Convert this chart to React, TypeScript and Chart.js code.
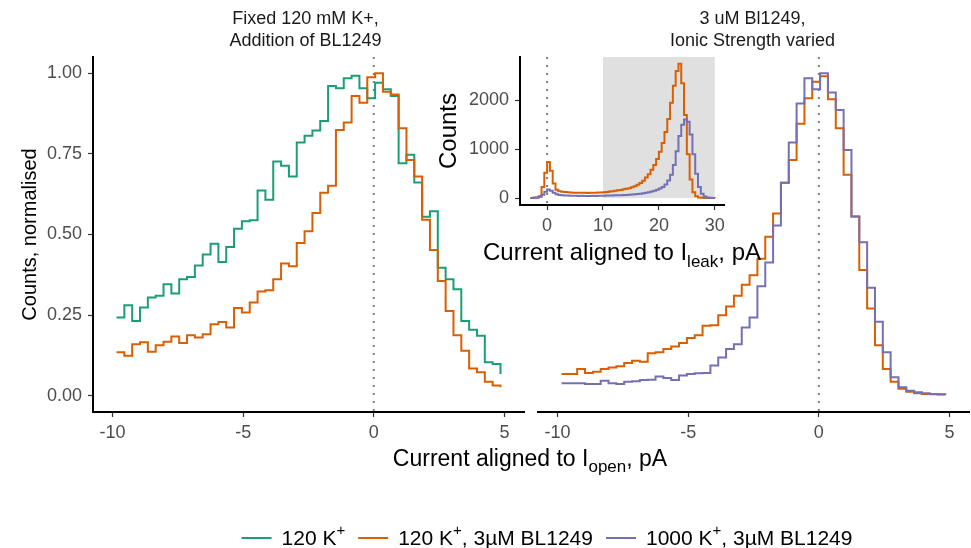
import React, { useEffect, useRef } from 'react';
import { Chart, registerables } from 'chart.js';

Chart.register(...registerables);

const W = 971;
const H = 548;
const FONT = '"Liberation Sans", Arial, Helvetica, sans-serif';

const COLOR_120K = '#1b9e77';
const COLOR_120K_BL = '#d95f02';
const COLOR_1000K_BL = '#7570b3';

// Bin centres (pA) of the main histograms
const binCenters = [
  -9.85, -9.55, -9.25, -8.95, -8.65, -8.35, -8.05, -7.75, -7.45, -7.15,
  -6.85, -6.55, -6.25, -5.95, -5.65, -5.35, -5.05, -4.75, -4.45, -4.15,
  -3.85, -3.55, -3.25, -2.95, -2.65, -2.35, -2.05, -1.75, -1.45, -1.15,
  -0.85, -0.55, -0.25, 0.05, 0.35, 0.65, 0.95, 1.25, 1.55, 1.85,
  2.15, 2.45, 2.75, 3.05, 3.35, 3.65, 3.95, 4.25, 4.55, 4.85,
];

// Left panel: Fixed 120 mM K+
const left120K = [
  0.243, 0.281, 0.232, 0.274, 0.305, 0.31, 0.346, 0.317, 0.361, 0.368,
  0.404, 0.438, 0.471, 0.415, 0.461, 0.518, 0.541, 0.544, 0.636, 0.608,
  0.726, 0.713, 0.68, 0.785, 0.806, 0.822, 0.852, 0.96, 0.953, 0.984,
  0.992, 0.953, 0.922, 0.97, 0.95, 0.929, 0.721, 0.747, 0.661, 0.555,
  0.572, 0.397, 0.361, 0.33, 0.232, 0.205, 0.186, 0.104, 0.099, 0.068,
];
const left120KBL = [
  0.135, 0.124, 0.16, 0.166, 0.137, 0.157, 0.168, 0.184, 0.164, 0.188,
  0.181, 0.191, 0.222, 0.229, 0.212, 0.272, 0.258, 0.289, 0.323, 0.327,
  0.361, 0.41, 0.402, 0.474, 0.51, 0.567, 0.629, 0.651, 0.824, 0.847,
  0.929, 0.908, 0.987, 1.0, 0.942, 0.934, 0.829, 0.731, 0.68, 0.546,
  0.452, 0.356, 0.263, 0.188, 0.14, 0.085, 0.073, 0.044, 0.032, 0.027,
];

// Right panel: 3 uM BL1249, ionic strength varied
const right120KBL = [
  0.068, 0.068, 0.083, 0.071, 0.075, 0.083, 0.088, 0.092, 0.102, 0.109,
  0.106, 0.132, 0.135, 0.145, 0.153, 0.164, 0.179, 0.188, 0.217, 0.219,
  0.25, 0.277, 0.31, 0.344, 0.374, 0.425, 0.493, 0.565, 0.66, 0.731,
  0.843, 0.922, 0.973, 0.99, 0.919, 0.829, 0.685, 0.556, 0.39, 0.271,
  0.157, 0.083, 0.044, 0.022, 0.013, 0.008, 0.006, 0.005, 0.004, 0.004,
];
const right1000KBL = [
  0.039, 0.039, 0.039, 0.037, 0.037, 0.047, 0.039, 0.037, 0.044, 0.045,
  0.049, 0.05, 0.06, 0.055, 0.049, 0.063, 0.068, 0.07, 0.071, 0.094,
  0.119, 0.145, 0.16, 0.212, 0.243, 0.34, 0.413, 0.528, 0.66, 0.785,
  0.906, 0.984, 0.95, 1.0, 0.94, 0.886, 0.762, 0.556, 0.476, 0.335,
  0.23, 0.135, 0.058, 0.027, 0.016, 0.011, 0.008, 0.006, 0.005, 0.004,
];

// Inset: raw counts vs current aligned to I_leak
const insetBins = [
  -3, -2.5, -2, -1.5, -1, -0.5, 0, 0.5, 1, 1.5,
  2, 2.5, 3, 3.5, 4, 4.5, 5, 5.5, 6, 6.5,
  7, 7.5, 8, 8.5, 9, 9.5, 10, 10.5, 11, 11.5,
  12, 12.5, 13, 13.5, 14, 14.5, 15, 15.5, 16, 16.5,
  17, 17.5, 18, 18.5, 19, 19.5, 20, 20.5, 21, 21.5,
  22, 22.5, 23, 23.5, 24, 24.5, 25, 25.5, 26, 26.5,
  27, 27.5, 28, 28.5, 29, 29.5, 30,
];
const inset120KBL = [
  5, 8, 15, 40, 230, 520, 740, 560, 300, 170,
  140, 130, 125, 120, 118, 112, 110, 112, 108, 110,
  105, 108, 110, 112, 115, 118, 122, 128, 135, 140,
  150, 160, 168, 180, 192, 205, 222, 245, 275, 310,
  355, 420, 490, 580, 680, 800, 950, 1130, 1350, 1620,
  1950, 2300, 2600, 2750, 2350, 1700, 900, 380, 120, 40,
  15, 8, 5, 3, 2, 1, 1,
];
const inset1000KBL = [
  5, 8, 15, 30, 70, 130, 175, 150, 110, 80,
  65, 58, 55, 52, 50, 48, 48, 46, 47, 45,
  46, 45, 47, 46, 48, 50, 50, 52, 54, 55,
  57, 58, 60, 63, 66, 70, 75, 80, 85, 92,
  100, 110, 120, 135, 150, 170, 195, 230, 280, 360,
  480, 680, 960, 1270, 1500, 1610, 1560, 1300, 900, 500,
  230, 90, 35, 15, 8, 4, 2,
];

const mainXTicks = [-10, -5, 0, 5];
const mainYTicks = [0, 0.25, 0.5, 0.75, 1];
const insetXTicks = [0, 10, 20, 30];
const insetYTicks = [0, 1000, 2000];
const highlightRange = [10, 30];

type Seg = { t: string; sub?: boolean; sup?: boolean };

const stripLeft = ['Fixed 120 mM K+,', 'Addition of BL1249'];
const stripRight = ['3 uM Bl1249,', 'Ionic Strength varied'];
const yTitle = 'Counts, normalised';
const xTitle: Seg[] = [{ t: 'Current aligned to I' }, { t: 'open', sub: true }, { t: ', pA' }];
const insetYTitle = 'Counts';
const insetXTitle: Seg[] = [{ t: 'Current aligned to I' }, { t: 'leak', sub: true }, { t: ', pA' }];
const legendItems: { color: string; label: Seg[] }[] = [
  { color: COLOR_120K, label: [{ t: '120 K' }, { t: '+', sup: true }] },
  { color: COLOR_120K_BL, label: [{ t: '120 K' }, { t: '+', sup: true }, { t: ', 3\u00b5M BL1249' }] },
  { color: COLOR_1000K_BL, label: [{ t: '1000 K' }, { t: '+', sup: true }, { t: ', 3\u00b5M BL1249' }] },
];

function segFont(size: number, s: Seg) {
  const sz = s.sub || s.sup ? Math.round(size * 0.72) : size;
  return `${sz}px ${FONT}`;
}
function richWidth(ctx: CanvasRenderingContext2D, segs: Seg[], size: number) {
  let w = 0;
  for (const s of segs) {
    ctx.font = segFont(size, s);
    w += ctx.measureText(s.t).width;
  }
  return w;
}
function drawRich(ctx: CanvasRenderingContext2D, segs: Seg[], x: number, y: number, size: number) {
  for (const s of segs) {
    ctx.font = segFont(size, s);
    const dy = s.sub ? size * 0.28 : s.sup ? -size * 0.38 : 0;
    ctx.fillText(s.t, x, y + dy);
    x += ctx.measureText(s.t).width;
  }
}

function stepDataset(label: string, xs: number[], ys: number[], color: string) {
  return {
    label,
    data: xs.map((x, i) => ({ x, y: ys[i] })),
    borderColor: color,
    backgroundColor: color,
    borderWidth: 2,
    borderJoinStyle: 'miter' as const,
    borderCapStyle: 'butt' as const,
    pointRadius: 0,
    pointHoverRadius: 0,
    stepped: 'before' as const,
    fill: false,
    tension: 0,
  };
}

const tickFont = { family: FONT, size: 18 };

function xAxis(min: number, max: number, ticks: number[], height: number) {
  return {
    type: 'linear' as const,
    min,
    max,
    afterBuildTicks: (s: any) => {
      s.ticks = ticks.map((v) => ({ value: v }));
    },
    afterFit: (s: any) => {
      s.height = height;
    },
    grid: { display: true, drawOnChartArea: false, drawTicks: true, tickLength: 5, tickColor: '#333333', tickWidth: 1.2 },
    border: { display: true, color: '#000000', width: 2 },
    ticks: { color: '#4d4d4d', font: tickFont, padding: 5, maxRotation: 0, autoSkip: false, callback: (v: any) => String(v) },
  };
}

function yAxis(min: number, max: number, ticks: number[], width: number, fmt: (v: number) => string, display = true) {
  return {
    type: 'linear' as const,
    display,
    min,
    max,
    afterBuildTicks: (s: any) => {
      s.ticks = ticks.map((v) => ({ value: v }));
    },
    afterFit: (s: any) => {
      s.width = width;
    },
    grid: { display: true, drawOnChartArea: false, drawTicks: true, tickLength: 5, tickColor: '#333333', tickWidth: 1.2 },
    border: { display: true, color: '#000000', width: 2 },
    ticks: { color: '#4d4d4d', font: tickFont, padding: 6, autoSkip: false, callback: (v: any) => fmt(Number(v)) },
  };
}

function drawZeroLine(chart: any) {
  const { ctx, chartArea, scales } = chart;
  const x = scales.x.getPixelForValue(0);
  ctx.save();
  ctx.strokeStyle = '#808080';
  ctx.lineWidth = 2;
  ctx.setLineDash([2, 6]);
  ctx.beginPath();
  ctx.moveTo(x, chartArea.top);
  ctx.lineTo(x, chartArea.bottom);
  ctx.stroke();
  ctx.restore();
}

const commonOptions = {
  responsive: false,
  maintainAspectRatio: false,
  animation: false as const,
  devicePixelRatio: 1,
  events: [] as any[],
};

const noPlugins = { legend: { display: false }, tooltip: { enabled: false }, title: { display: false } };

export default function App() {
  const leftRef = useRef<HTMLCanvasElement>(null);
  const rightRef = useRef<HTMLCanvasElement>(null);
  const insetRef = useRef<HTMLCanvasElement>(null);

  useEffect(() => {
    document.body.style.margin = '0';
    const charts: Chart[] = [];

    // Left panel (also draws the shared axis titles and the legend)
    charts.push(
      new Chart(leftRef.current as HTMLCanvasElement, {
        type: 'line',
        data: {
          datasets: [
            stepDataset('120 K+, 3uM BL1249', binCenters, left120KBL, COLOR_120K_BL),
            stepDataset('120 K+', binCenters, left120K, COLOR_120K),
          ],
        },
        options: {
          ...commonOptions,
          layout: { padding: { left: 0, right: W - 524, top: 57, bottom: 0 } },
          plugins: noPlugins,
          scales: {
            x: xAxis(-10.75, 5.75, mainXTicks, H - 412),
            y: yAxis(-0.05, 1.05, mainYTicks, 93, (v) => v.toFixed(2)),
          },
        } as any,
        plugins: [
          {
            id: 'leftExtras',
            beforeDatasetsDraw(chart: any) {
              drawZeroLine(chart);
            },
            afterDraw(chart: any) {
              const ctx = chart.ctx as CanvasRenderingContext2D;
              const ca = chart.chartArea;
              ctx.save();
              ctx.fillStyle = '#1a1a1a';
              ctx.font = `18px ${FONT}`;
              ctx.textAlign = 'center';
              ctx.textBaseline = 'alphabetic';
              const cx = (ca.left + ca.right) / 2 - 3;
              ctx.fillText(stripLeft[0], cx, 24);
              ctx.fillText(stripLeft[1], cx, 46);
              // y title
              ctx.fillStyle = '#000000';
              ctx.save();
              ctx.translate(30, (ca.top + ca.bottom) / 2);
              ctx.rotate(-Math.PI / 2);
              ctx.font = `20px ${FONT}`;
              ctx.textBaseline = 'middle';
              ctx.textAlign = 'center';
              ctx.fillText(yTitle, 0, 0);
              ctx.restore();
              // x title spanning both panels
              ctx.textAlign = 'left';
              ctx.textBaseline = 'alphabetic';
              const tw = richWidth(ctx, xTitle, 23);
              drawRich(ctx, xTitle, 530 - tw / 2, 466, 23);
              // legend
              const lsize = 21;
              const keyW = 30;
              const gapKT = 10;
              const gapItem = 13;
              const widths = legendItems.map((it) => richWidth(ctx, it.label, lsize));
              const total = widths.reduce((a, b) => a + b, 0) + legendItems.length * (keyW + gapKT) + (legendItems.length - 1) * gapItem;
              let x = 547 - total / 2;
              const ly = 538;
              legendItems.forEach((it, i) => {
                ctx.strokeStyle = it.color;
                ctx.lineWidth = 2;
                ctx.beginPath();
                ctx.moveTo(x, ly);
                ctx.lineTo(x + keyW, ly);
                ctx.stroke();
                x += keyW + gapKT;
                ctx.fillStyle = '#000000';
                ctx.textBaseline = 'middle';
                drawRich(ctx, it.label, x, ly + 1, lsize);
                x += widths[i] + gapItem;
              });
              ctx.restore();
            },
          },
        ],
      } as any)
    );

    // Right panel
    charts.push(
      new Chart(rightRef.current as HTMLCanvasElement, {
        type: 'line',
        data: {
          datasets: [
            stepDataset('1000 K+, 3uM BL1249', binCenters, right1000KBL, COLOR_1000K_BL),
            stepDataset('120 K+, 3uM BL1249', binCenters, right120KBL, COLOR_120K_BL),
          ],
        },
        options: {
          ...commonOptions,
          layout: { padding: { left: 538, right: W - 969, top: 57, bottom: 0 } },
          plugins: noPlugins,
          scales: {
            x: xAxis(-10.75, 5.75, mainXTicks, H - 412),
            y: yAxis(-0.05, 1.05, mainYTicks, 0, (v) => v.toFixed(2), false),
          },
        } as any,
        plugins: [
          {
            id: 'rightExtras',
            beforeDatasetsDraw(chart: any) {
              drawZeroLine(chart);
            },
            afterDraw(chart: any) {
              const ctx = chart.ctx as CanvasRenderingContext2D;
              const ca = chart.chartArea;
              ctx.save();
              ctx.fillStyle = '#1a1a1a';
              ctx.font = `18px ${FONT}`;
              ctx.textAlign = 'center';
              ctx.textBaseline = 'alphabetic';
              const cx = (ca.left + ca.right) / 2 - 1;
              ctx.fillText(stripRight[0], cx, 24);
              ctx.fillText(stripRight[1], cx, 46);
              ctx.restore();
            },
          },
        ],
      } as any)
    );

    // Inset
    charts.push(
      new Chart(insetRef.current as HTMLCanvasElement, {
        type: 'line',
        data: {
          datasets: [
            stepDataset('1000 K+, 3uM BL1249', insetBins, inset1000KBL, COLOR_1000K_BL),
            stepDataset('120 K+, 3uM BL1249', insetBins, inset120KBL, COLOR_120K_BL),
          ],
        },
        options: {
          ...commonOptions,
          layout: { padding: { left: 0, right: W - 724, top: 57, bottom: 0 } },
          plugins: noPlugins,
          scales: {
            x: xAxis(-4.85, 31.65, insetXTicks, H - 205),
            y: yAxis(-140, 2886, insetYTicks, 520, (v) => String(v)),
          },
        } as any,
        plugins: [
          {
            id: 'insetExtras',
            beforeDatasetsDraw(chart: any) {
              const { ctx, chartArea, scales } = chart;
              const x0 = scales.x.getPixelForValue(highlightRange[0]);
              const x1 = scales.x.getPixelForValue(highlightRange[1]);
              const yb = scales.y.getPixelForValue(0);
              ctx.save();
              ctx.fillStyle = '#e0e0e0';
              ctx.fillRect(x0, chartArea.top, x1 - x0, yb - chartArea.top);
              ctx.restore();
              drawZeroLine(chart);
            },
            afterDraw(chart: any) {
              const ctx = chart.ctx as CanvasRenderingContext2D;
              const ca = chart.chartArea;
              ctx.save();
              ctx.fillStyle = '#000000';
              ctx.save();
              ctx.translate(449, (ca.top + ca.bottom) / 2);
              ctx.rotate(-Math.PI / 2);
              ctx.font = `24px ${FONT}`;
              ctx.textBaseline = 'middle';
              ctx.textAlign = 'center';
              ctx.fillText(insetYTitle, 0, 0);
              ctx.restore();
              ctx.textAlign = 'left';
              ctx.textBaseline = 'alphabetic';
              const tw = richWidth(ctx, insetXTitle, 24);
              drawRich(ctx, insetXTitle, (ca.left + ca.right) / 2 - tw / 2, 260, 24);
              ctx.restore();
            },
          },
        ],
      } as any)
    );

    return () => {
      charts.forEach((c) => c.destroy());
    };
  }, []);

  const canvasStyle: React.CSSProperties = { position: 'absolute', left: 0, top: 0, width: W, height: H };
  return (
    <div style={{ position: 'fixed', left: 0, top: 0, width: W, height: H, background: '#ffffff', overflow: 'hidden' }}>
      <canvas ref={leftRef} width={W} height={H} style={canvasStyle} />
      <canvas ref={rightRef} width={W} height={H} style={canvasStyle} />
      <canvas ref={insetRef} width={W} height={H} style={canvasStyle} />
    </div>
  );
}
